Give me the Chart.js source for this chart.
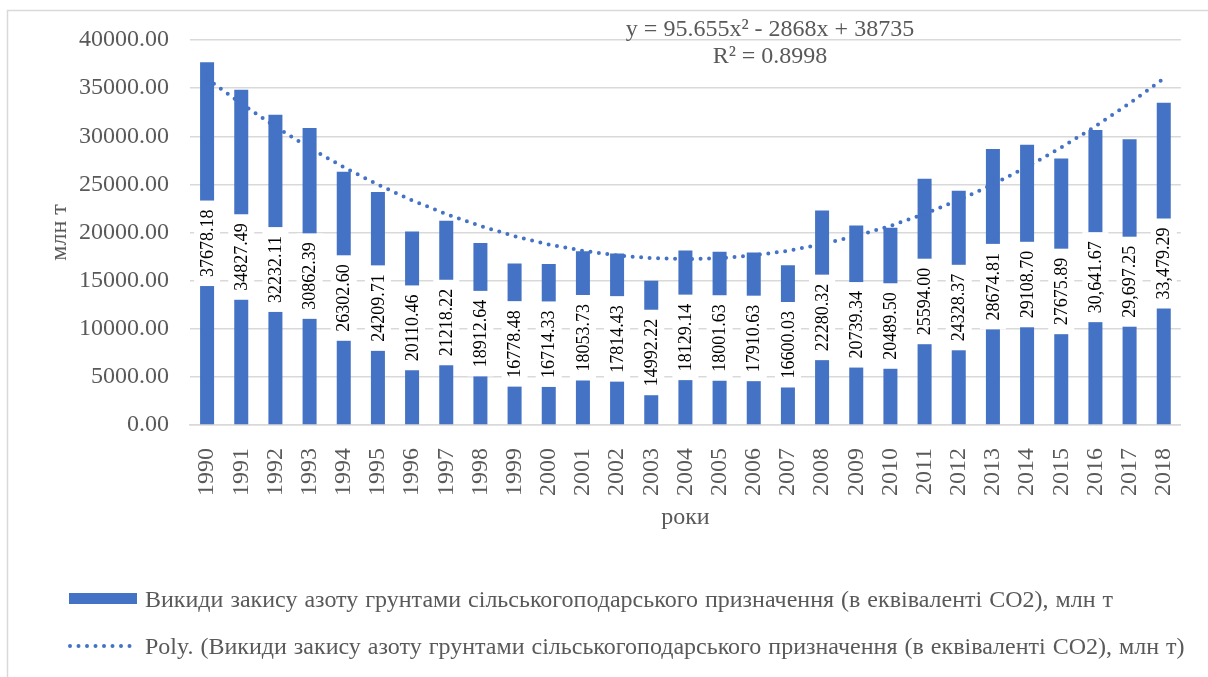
<!DOCTYPE html>
<html>
<head>
<meta charset="utf-8">
<script src="https://cdn.jsdelivr.net/npm/chart.js@4.4.1/dist/chart.umd.min.js"></script>
<style>
  body { margin: 0; background: #fff; }
  #wrap { width: 1208px; height: 677px; position: relative; }
</style>
</head>
<body>
<div id="wrap"><canvas id="myChart"></canvas></div>
<script>
// дані
var years = ['1990','1991','1992','1993','1994','1995','1996','1997','1998','1999','2000',
  '2001','2002','2003','2004','2005','2006','2007','2008','2009','2010',
  '2011','2012','2013','2014','2015','2016','2017','2018'];

var emissions = [37678.18, 34827.49, 32232.11, 30862.39, 26302.60, 24209.71, 20110.46, 21218.22,
  18912.64, 16778.48, 16714.33, 18053.73, 17814.43, 14992.22, 18129.14, 18001.63, 17910.63,
  16600.03, 22280.32, 20739.34, 20489.50, 25594.00, 24328.37, 28674.81, 29108.70, 27675.89,
  30641.67, 29697.25, 33479.29];

var valueLabels = ['37678.18','34827.49','32232.11','30862.39','26302.60','24209.71','20110.46',
  '21218.22','18912.64','16778.48','16714.33','18053.73','17814.43','14992.22','18129.14',
  '18001.63','17910.63','16600.03','22280.32','20739.34','20489.50','25594.00','24328.37',
  '28674.81','29108.70','27675.89','30,641.67','29,697.25','33,479.29'];

// поліноміальний тренд (значення по роках)
var trendValues = [35963, 33382, 30992, 28794, 26786, 24971, 23346, 21913, 20671, 19621,
  18761, 18093, 17617, 17331, 17237, 17335, 17623, 18103, 18775, 19637, 20691, 21936,
  23373, 25000, 26819, 28830, 31032, 33425, 36009];

var yMin = 0, yMax = 40000, yStep = 5000;

var seriesName = 'Викиди закису азоту грунтами сільськогоподарського призначення (в еквіваленті CO2), млн т';
var trendName = 'Poly. (Викиди закису азоту грунтами сільськогоподарського призначення (в еквіваленті CO2), млн т)';
var equation = ['y = 95.655x\u00b2 - 2868x + 38735', 'R\u00b2 = 0.8998'];

var serif = '"Liberation Serif", "Times New Roman", serif';
var grey = '#595959';
var blue = '#4472C4';

// підписи значень у білих рамках посередині стовпчиків
var barLabels = {
  id: 'barLabels',
  afterDatasetDraw: function(chart, args) {
    if (args.index !== 0) return;
    var ctx = chart.ctx;
    ctx.save();
    ctx.font = '18px ' + serif;
    args.meta.data.forEach(function(bar, i) {
      var text = valueLabels[i];
      var w = ctx.measureText(text).width;
      ctx.save();
      ctx.translate(bar.x, (bar.y + bar.base) / 2);
      ctx.rotate(-Math.PI / 2);
      ctx.fillStyle = '#fff';
      ctx.fillRect(-w / 2 - 9, -13, w + 18, 26);
      ctx.fillStyle = '#000';
      ctx.textAlign = 'center';
      ctx.textBaseline = 'middle';
      ctx.fillText(text, 0, 1);
      ctx.restore();
    });
    ctx.restore();
  }
};

// рамка, рівняння тренду і легенда
var extras = {
  id: 'extras',
  beforeDraw: function(chart) {
    var ctx = chart.ctx;
    ctx.save();
    ctx.strokeStyle = '#d9d9d9';
    ctx.lineWidth = 1.5;
    ctx.strokeRect(7.5, 10.5, 1230, 700);
    ctx.restore();
  },
  afterDraw: function(chart) {
    var ctx = chart.ctx;
    ctx.save();
    ctx.font = '24px ' + serif;
    ctx.fillStyle = grey;
    ctx.textAlign = 'center';
    ctx.textBaseline = 'middle';
    ctx.fillText(equation[0], 770, 30);
    ctx.fillText(equation[1], 770, 57);

    ctx.textAlign = 'left';
    ctx.wordSpacing = '1px';
    ctx.fillStyle = blue;
    ctx.fillRect(69, 593, 68, 11);
    ctx.fillStyle = grey;
    ctx.fillText(seriesName, 145, 601);

    ctx.strokeStyle = blue;
    ctx.lineWidth = 4;
    ctx.lineCap = 'round';
    ctx.setLineDash([0, 8.5]);
    ctx.beginPath();
    ctx.moveTo(70, 646);
    ctx.lineTo(138, 646);
    ctx.stroke();
    ctx.setLineDash([]);
    ctx.fillText(trendName, 145, 648);
    ctx.restore();
  }
};

var ctx = document.getElementById('myChart').getContext('2d');
var myChart = new Chart(ctx, {
  data: {
    labels: years,
    datasets: [{
      type: 'bar',
      label: seriesName,
      data: emissions,
      backgroundColor: blue,
      categoryPercentage: 1,
      barPercentage: 0.41,
      order: 1
    }, {
      type: 'line',
      label: trendName,
      data: trendValues,
      borderColor: blue,
      borderWidth: 4,
      borderDash: [0, 8.5],
      borderCapStyle: 'round',
      pointRadius: 0,
      fill: false,
      tension: 0,
      order: 0
    }]
  },
  options: {
    responsive: true,
    maintainAspectRatio: false,
    animation: false,
    layout: { padding: { top: 40, left: 0, right: 26, bottom: 132 } },
    plugins: {
      legend: { display: false },
      tooltip: { enabled: false }
    },
    scales: {
      x: {
        grid: { display: false },
        border: { display: true, color: '#d9d9d9', width: 1.5 },
        ticks: {
          color: grey,
          font: { family: serif, size: 24 },
          minRotation: 90,
          maxRotation: 90,
          padding: 15,
          autoSkip: false
        },
        title: {
          display: true,
          text: 'роки',
          color: grey,
          font: { family: serif, size: 24 },
          padding: { top: 0, bottom: 13 }
        },
        afterFit: function(scale) { scale.height = 120; }
      },
      y: {
        min: yMin,
        max: yMax,
        grid: { color: '#d9d9d9', lineWidth: 1.5, drawTicks: false },
        border: { display: false },
        ticks: {
          stepSize: yStep,
          color: grey,
          font: { family: serif, size: 24 },
          padding: 21,
          callback: function(v) { return Number(v).toFixed(2); }
        },
        title: {
          display: true,
          text: 'млн т',
          color: grey,
          font: { family: serif, size: 24 },
          padding: { top: 45, bottom: 0 }
        },
        afterFit: function(scale) { scale.width = 190; }
      }
    }
  },
  plugins: [barLabels, extras]
});
</script>
</body>
</html>
